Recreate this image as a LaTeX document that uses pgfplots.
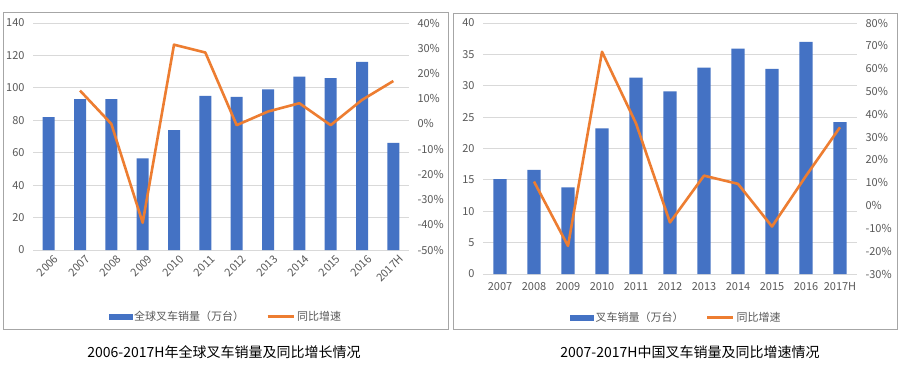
\documentclass[border=0pt]{standalone}
\usepackage{fontspec}
\setmainfont{Noto Sans CJK SC}
\usepackage{pgfplots}
\pgfplotsset{compat=1.18}
\definecolor{barblue}{HTML}{4472C4}
\definecolor{lineorange}{HTML}{ED7D31}
\definecolor{ticktext}{HTML}{595959}
\definecolor{gridc}{HTML}{D9D9D9}
\definecolor{framec}{HTML}{A6A6A6}
\pgfplotsset{
  base/.style={scale only axis, axis line style={draw=none}, major tick length=0pt,
    tick label style={font=\fontsize{11}{13}\selectfont, text=ticktext},
    /pgf/number format/assume math mode=true, clip=false},
  leg/.style={legend columns=2, legend cell align=left,
    legend style={draw=none, fill=none, anchor=center,
      font=\fontsize{11}{13}\selectfont, text=ticktext,
      /tikz/every even column/.append style={column sep=20pt}}},
}
\begin{document}
\begin{tikzpicture}
\useasboundingbox (0pt,0pt) rectangle (900pt,370pt);
\fill[white] (0pt,0pt) rectangle (900pt,370pt);
\draw[framec, line width=0.8pt] (3.5pt,41pt) rectangle (448pt,358pt);
\draw[framec, line width=0.8pt] (453pt,41pt) rectangle (897pt,357pt);
% ---------- left chart ----------
\begin{axis}[base, at={(33pt,120pt)}, anchor=south west, width=376pt, height=227pt,
  xmin=-0.5, xmax=11.5, ymin=0, ymax=140, ytick distance=20,
  ymajorgrids, grid style={gridc, line width=0.8pt},
  xtick={0,...,11},
  xticklabels={2006,2007,2008,2009,2010,2011,2012,2013,2014,2015,2016,2017H},
  xticklabel style={rotate=45, anchor=north east, xshift=4pt, yshift=-3pt},
  yticklabel style={xshift=-5pt}]
\addplot[ybar, bar width=12pt, fill=barblue, draw=none] coordinates {
(0,82) (1,93) (2,93) (3,56.5) (4,74) (5,95) (6,94.5) (7,99) (8,107) (9,106) (10,116) (11,66)};
\end{axis}
\begin{axis}[base, leg, at={(33pt,120pt)}, anchor=south west, width=376pt, height=227pt,
  xmin=-0.5, xmax=11.5, ymin=-50, ymax=40, ytick distance=10,
  axis y line*=right, axis x line=none,
  yticklabel={\pgfmathprintnumber{\tick}\%}, yticklabel style={xshift=5pt},
  legend style={at={(0.513,-0.295)}}]
\addlegendimage{legend image code/.code={\fill[barblue] (0pt,-2.5pt) rectangle (23pt,2.5pt);}}
\addlegendentry{全球叉车销量（万台）}
\addplot[lineorange, line width=2.6pt, line join=round,
  legend image code/.code={\draw[lineorange, line width=3pt] (0pt,0pt) -- (26pt,0pt);}]
 coordinates {(1,13.2) (2,0) (3,-39.2) (4,31.4) (5,28.3) (6,-0.5) (7,4.9) (8,8.2) (9,-0.5) (10,9.5) (11,17)};
\addlegendentry{同比增速}
\end{axis}
% ---------- right chart ----------
\begin{axis}[base, at={(483pt,96pt)}, anchor=south west, width=374pt, height=251pt,
  xmin=-0.5, xmax=10.5, ymin=0, ymax=40, ytick distance=5,
  ymajorgrids, grid style={gridc, line width=0.8pt},
  xtick={0,...,10},
  xticklabels={2007,2008,2009,2010,2011,2012,2013,2014,2015,2016,2017H},
  xticklabel style={yshift=-5pt},
  yticklabel style={xshift=-5pt}]
\addplot[ybar, bar width=13.3pt, fill=barblue, draw=none] coordinates {
(0,15.1) (1,16.6) (2,13.8) (3,23.2) (4,31.3) (5,29.1) (6,32.9) (7,35.9) (8,32.7) (9,37.0) (10,24.2)};
\end{axis}
\begin{axis}[base, leg, at={(483pt,96pt)}, anchor=south west, width=374pt, height=251pt,
  xmin=-0.5, xmax=10.5, ymin=-30, ymax=80, ytick distance=10,
  axis y line*=right, axis x line=none,
  yticklabel={\pgfmathprintnumber{\tick}\%}, yticklabel style={xshift=5pt},
  legend style={at={(0.517,-0.175)}}]
\addlegendimage{legend image code/.code={\fill[barblue] (0pt,-2.5pt) rectangle (23pt,2.5pt);}}
\addlegendentry{叉车销量（万台）}
\addplot[lineorange, line width=2.6pt, line join=round,
  legend image code/.code={\draw[lineorange, line width=3pt] (0pt,0pt) -- (26pt,0pt);}]
 coordinates {(1,10.5) (2,-17.7) (3,67.4) (4,36) (5,-7.4) (6,13.1) (7,9.5) (8,-9.2) (9,13) (10,34.3)};
\addlegendentry{同比增速}
\end{axis}
% ---------- captions ----------
\node[font=\fontsize{14}{16}\selectfont] at (224pt,18pt) {2006-2017H年全球叉车销量及同比增长情况};
\node[font=\fontsize{14}{16}\selectfont] at (690pt,18pt) {2007-2017H中国叉车销量及同比增速情况};
\end{tikzpicture}
\end{document}
